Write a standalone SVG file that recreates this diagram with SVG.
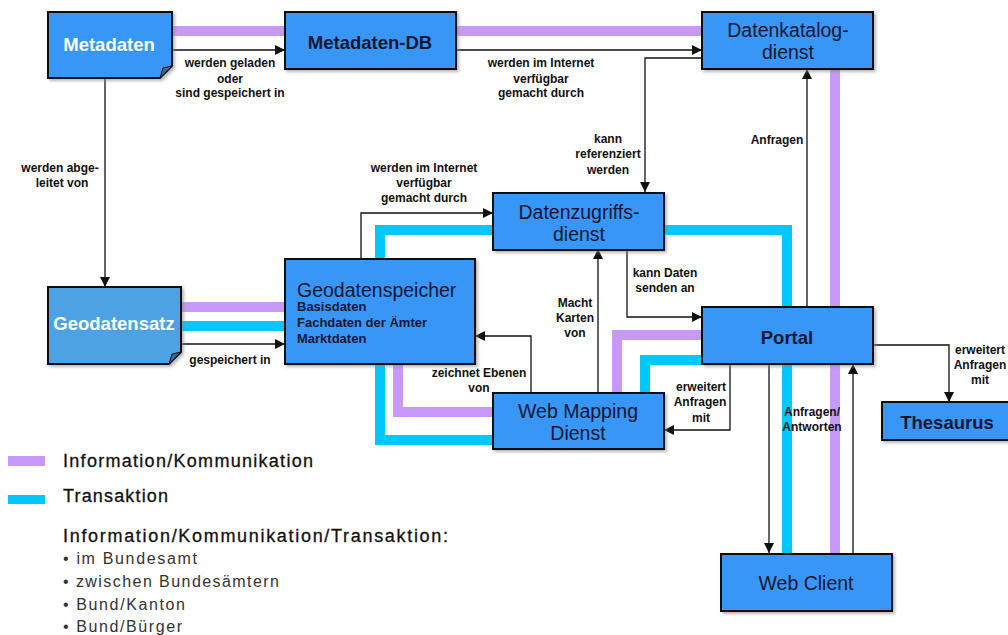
<svg xmlns="http://www.w3.org/2000/svg" width="1008" height="635" viewBox="0 0 1008 635">
<defs>
<style>
.box{fill:#3796f6;stroke:#111;stroke-width:2;filter:url(#sh)}
.box2{fill:#4ea2e4;stroke:#111;stroke-width:2;filter:url(#sh)}
.fold{fill:#3a6590;stroke:#111;stroke-width:1}
.t{font-family:"Liberation Sans",Arial,sans-serif;fill:#0b1633;text-anchor:middle;font-size:19.5px}
.tb{font-family:"Liberation Sans",Arial,sans-serif;fill:#0b1633;text-anchor:middle;font-size:18.5px;font-weight:bold}
.tw{font-family:"Liberation Sans",Arial,sans-serif;fill:#fff;text-anchor:middle;font-size:18.5px;font-weight:bold}
.sub{font-family:"Liberation Sans",Arial,sans-serif;fill:#0b1633;font-size:13px;font-weight:bold}
.lbl{font-family:"Liberation Sans",Arial,sans-serif;font-size:12px;font-weight:bold;fill:#111;text-anchor:middle}
.pur{stroke:#c898f8;stroke-width:10;fill:none}
.cy{stroke:#00c8fa;stroke-width:10;fill:none}
.con{stroke:#111;stroke-width:1.3;fill:none;marker-end:url(#ah)}
.lg{font-family:"Liberation Sans",Arial,sans-serif;font-size:18px;fill:#111;stroke:#111;stroke-width:0.3}
.li{font-family:"Liberation Sans",Arial,sans-serif;font-size:16px;fill:#333}
</style>
<marker id="ah" markerUnits="userSpaceOnUse" markerWidth="10" markerHeight="10" refX="10" refY="5" orient="auto">
<path d="M0,0 L10,5 L0,10 z" fill="#111"/>
</marker>
<filter id="sh" x="-10%" y="-10%" width="130%" height="140%">
<feDropShadow dx="2" dy="2" stdDeviation="1.5" flood-color="#888" flood-opacity="0.6"/>
</filter>
</defs>

<g id="bands">
<path class="pur" d="M172,31 H702"/>
<path class="pur" d="M835,69 V554"/>
<path class="pur" d="M181,307 H285"/>
<path class="cy" d="M181,326 H285"/>
<path class="pur" d="M398,364 V412 H493"/>
<path class="pur" d="M617,393 V335 H702"/>
<path class="cy" d="M493,440 H380 V230 H493"/>
<path class="cy" d="M664,230 H787 V554"/>
<path class="cy" d="M645,393 V360 H702"/>
</g>

<g id="connectors">
<path class="con" d="M172,50 H285"/>
<path class="con" d="M456,50 H702"/>
<path class="con" d="M702,58 H645 V192"/>
<path class="con" d="M105,78 V287"/>
<path class="con" d="M181,344 H285"/>
<path class="con" d="M361,259 V213 H493"/>
<path class="con" d="M531,393 V336 H475"/>
<path class="con" d="M598,393 V249"/>
<path class="con" d="M627,249 V317 H702"/>
<path class="con" d="M730,364 V430 H664"/>
<path class="con" d="M807,307 V69"/>
<path class="con" d="M873,345 H949 V402"/>
<path class="con" d="M769,364 V553"/>
<path class="con" d="M853,553 V364"/>
</g>

<g id="labels">
<text class="lbl"><tspan x="230" y="67">werden geladen</tspan><tspan x="230" y="83">oder</tspan><tspan x="230" y="97">sind gespeichert in</tspan></text>
<text class="lbl"><tspan x="541" y="67">werden im  Internet</tspan><tspan x="541" y="83">verfügbar</tspan><tspan x="541" y="97">gemacht durch</tspan></text>
<text class="lbl"><tspan x="608" y="143">kann</tspan><tspan x="608" y="158">referenziert</tspan><tspan x="608" y="174">werden</tspan></text>
<text class="lbl"><tspan x="424" y="172">werden im  Internet</tspan><tspan x="424" y="187">verfügbar</tspan><tspan x="424" y="202">gemacht durch</tspan></text>
<text class="lbl"><tspan x="60" y="172">werden abge-</tspan><tspan x="62" y="187">leitet von</tspan></text>
<text class="lbl" x="230" y="364">gespeichert in</text>
<text class="lbl" x="777" y="144">Anfragen</text>
<text class="lbl"><tspan x="665" y="277">kann Daten</tspan><tspan x="665" y="292">senden an</tspan></text>
<text class="lbl"><tspan x="575" y="307">Macht</tspan><tspan x="575" y="322">Karten</tspan><tspan x="575" y="337">von</tspan></text>
<text class="lbl"><tspan x="479" y="377">zeichnet Ebenen</tspan><tspan x="479" y="392">von</tspan></text>
<text class="lbl"><tspan x="701" y="391">erweitert</tspan><tspan x="700" y="406">Anfragen</tspan><tspan x="701" y="422">mit</tspan></text>
<text class="lbl"><tspan x="980" y="354">erweitert</tspan><tspan x="980" y="369">Anfragen</tspan><tspan x="980" y="384">mit</tspan></text>
<text class="lbl"><tspan x="812" y="416">Anfragen/</tspan><tspan x="812" y="431">Antworten</tspan></text>
</g>

<g id="metadaten">
<path class="box" d="M48,12 H172 V66 L160,78 H48 Z"/>
<path class="fold" d="M160,78 L163,68 L172,66 Z"/>
<text class="tw" x="109" y="51">Metadaten</text>
</g>
<g id="metadaten-db">
<rect class="box" x="285" y="12" width="171" height="57"/>
<text class="tb" x="370" y="49">Metadaten-DB</text>
</g>
<g id="datenkatalogdienst">
<rect class="box" x="702" y="12" width="171" height="57"/>
<text class="t"><tspan x="788" y="37">Datenkatalog-</tspan><tspan x="788" y="59">dienst</tspan></text>
</g>
<g id="datenzugriffsdienst">
<rect class="box" x="493" y="193" width="171" height="57"/>
<text class="t"><tspan x="579" y="219">Datenzugriffs-</tspan><tspan x="579" y="241">dienst</tspan></text>
</g>
<g id="geodatensatz">
<path class="box2" d="M48,287 H181 V352 L169,364 H48 Z"/>
<path class="fold" d="M169,364 L172,354 L181,352 Z"/>
<text class="tw" x="114" y="330">Geodatensatz</text>
</g>
<g id="geodatenspeicher">
<rect class="box" x="285" y="259" width="190" height="105"/>
<text class="t" x="297" y="297" style="text-anchor:start">Geodatenspeicher</text>
<text class="sub"><tspan x="297" y="311">Basisdaten</tspan><tspan x="297" y="327">Fachdaten der Ämter</tspan><tspan x="297" y="343">Marktdaten</tspan></text>
</g>
<g id="webmapping">
<rect class="box" x="493" y="393" width="171" height="56"/>
<text class="t"><tspan x="578" y="418">Web Mapping</tspan><tspan x="578" y="440">Dienst</tspan></text>
</g>
<g id="portal">
<rect class="box" x="702" y="307" width="171" height="57"/>
<text class="tb" x="787" y="344">Portal</text>
</g>
<g id="thesaurus">
<rect class="box" x="882" y="402" width="140" height="38"/>
<text class="tb" x="947" y="429">Thesaurus</text>
</g>
<g id="webclient">
<rect class="box" x="721" y="554" width="171" height="57"/>
<text class="t" x="806" y="590">Web Client</text>
</g>

<g id="legend">
<rect x="8" y="456" width="37" height="10" fill="#c898f8"/>
<rect x="8" y="495" width="37" height="9" fill="#00c8fa"/>
<text class="lg" x="63" y="467" textLength="250" lengthAdjust="spacing">Information/Kommunikation</text>
<text class="lg" x="63" y="502" textLength="105" lengthAdjust="spacing">Transaktion</text>
<text class="lg" x="63" y="542" textLength="385" lengthAdjust="spacing">Information/Kommunikation/Transaktion:</text>
<text class="li" x="63" y="564" textLength="134" lengthAdjust="spacing">• im Bundesamt</text>
<text class="li" x="63" y="587" textLength="216" lengthAdjust="spacing">• zwischen Bundesämtern</text>
<text class="li" x="63" y="610" textLength="122" lengthAdjust="spacing">• Bund/Kanton</text>
<text class="li" x="63" y="632" textLength="119" lengthAdjust="spacing">• Bund/Bürger</text>
</g>
</svg>
